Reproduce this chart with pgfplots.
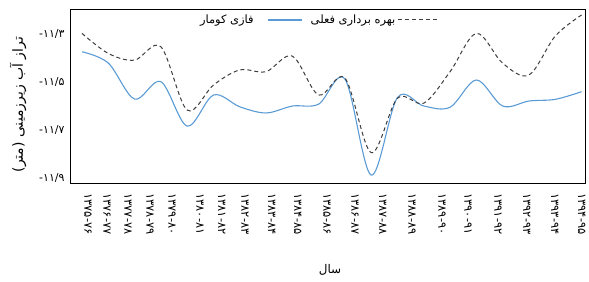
\documentclass[border=0pt]{standalone}
\usepackage{fontspec}
\usepackage{pgfplots}
\pgfplotsset{compat=1.18}
\TeXXeTstate=1
\newfontfamily\fa[Script=Arabic]{DejaVu Sans}
\definecolor{exblue}{RGB}{91,155,213}
\definecolor{dgray}{RGB}{60,60,60}
\newcommand\yr[2]{\hbox{#1}\hbox{-}\hbox{#2}}
\newcommand\yv[1]{\hbox{-}\hbox{#1}}
\pgfplotsset{
  blueleg/.style={legend image code/.code={\draw[##1] (0bp,0bp) -- (34bp,0bp);}},
  dashleg/.style={legend image code/.code={\draw[##1] (0bp,0bp) -- (40bp,0bp);}},
}
\begin{document}
\begin{tikzpicture}
\begin{axis}[
  name=ax,
  scale only axis,
  width=515bp, height=174bp,
  xmin=-0.456, xmax=19.13,
  ymin=-11.922, ymax=-11.194,
  axis line style={black, line width=0.8pt},
  tick style={draw=none},
  ytick={-11.3,-11.5,-11.7,-11.9},
  yticklabels={\yv{۱۱/۳},\yv{۱۱/۵},\yv{۱۱/۷},\yv{۱۱/۹}},
  xtick={0.23,0.95,1.75,2.59,3.42,4.49,5.32,6.20,7.22,8.21,9.32,10.38,11.44,12.55,13.69,14.68,15.82,16.92,17.98,19.01},
  xticklabels={\yr{۱۳۷۵}{۷۶},\yr{۱۳۷۶}{۷۷},\yr{۱۳۷۷}{۷۸},\yr{۱۳۷۸}{۷۹},\yr{۱۳۷۹}{۸۰},\yr{۱۳۸۰}{۸۱},\yr{۱۳۸۱}{۸۲},\yr{۱۳۸۲}{۸۳},\yr{۱۳۸۳}{۸۴},\yr{۱۳۸۴}{۸۵},\yr{۱۳۸۵}{۸۶},\yr{۱۳۸۶}{۸۷},\yr{۱۳۸۷}{۸۸},\yr{۱۳۸۸}{۸۹},\yr{۱۳۸۹}{۹۰},\yr{۱۳۹۰}{۹۱},\yr{۱۳۹۱}{۹۲},\yr{۱۳۹۲}{۹۳},\yr{۱۳۹۳}{۹۴},\yr{۱۳۹۴}{۹۵}},
  xticklabel style={rotate=-90, anchor=west, font=\fa\fontsize{11.5}{12}\selectfont},
  xticklabel shift=7bp,
  yticklabel style={font=\fa\fontsize{11}{12}\selectfont},
  yticklabel shift=2bp,
  xlabel={\fa\beginR سال\endR},
  xlabel style={at={(axis description cs:0.505,-0.5)}, anchor=center, font=\fa\fontsize{12}{14}\selectfont},
  ylabel={\fa\beginR تراز آب زیرزمینی (متر)\endR},
  ylabel style={at={(axis description cs:-0.101,0.45)}, anchor=center, rotate=0, font=\fa\fontsize{14}{16}\selectfont},
  legend style={draw=none, fill=none, at={(axis description cs:0.482,0.937)}, anchor=center,
    font=\fa\fontsize{11.5}{13}\selectfont,
    /tikz/every even column/.append style={column sep=6bp}},
  legend columns=2,
  legend plot pos=right,
]
\addplot[exblue, line width=1.1pt, smooth, tension=0.55, blueleg] coordinates {
(0,-11.373) (1,-11.420) (2,-11.571) (3,-11.498) (4,-11.684) (5,-11.554)
(6,-11.603) (7,-11.629) (8,-11.600) (9,-11.592) (10,-11.487) (11,-11.889)
(12,-11.564) (13,-11.600) (14,-11.605) (15,-11.491) (16,-11.600) (17,-11.579)
(18,-11.572) (19,-11.540)};
\addlegendentry{\hbox{\beginR فازی کومار\endR}\rule{12bp}{0pt}}
\addplot[dgray, line width=1.0pt, dash pattern=on 4bp off 3bp, smooth, tension=0.55, dashleg] coordinates {
(0,-11.296) (1,-11.380) (2,-11.408) (3,-11.352) (4,-11.617) (5,-11.512)
(6,-11.449) (7,-11.456) (8,-11.391) (9,-11.554) (10,-11.483) (11,-11.795)
(12,-11.567) (13,-11.588) (14,-11.456) (15,-11.296) (16,-11.421) (17,-11.470)
(18,-11.307) (19,-11.219)};
\addlegendentry{\beginR بهره برداری فعلی\endR}
\end{axis}
\pgfresetboundingbox
\path[use as bounding box] ([xshift=-70bp,yshift=-99bp]ax.south west) rectangle ([xshift=4bp,yshift=9bp]ax.north east);
\end{tikzpicture}
\end{document}
